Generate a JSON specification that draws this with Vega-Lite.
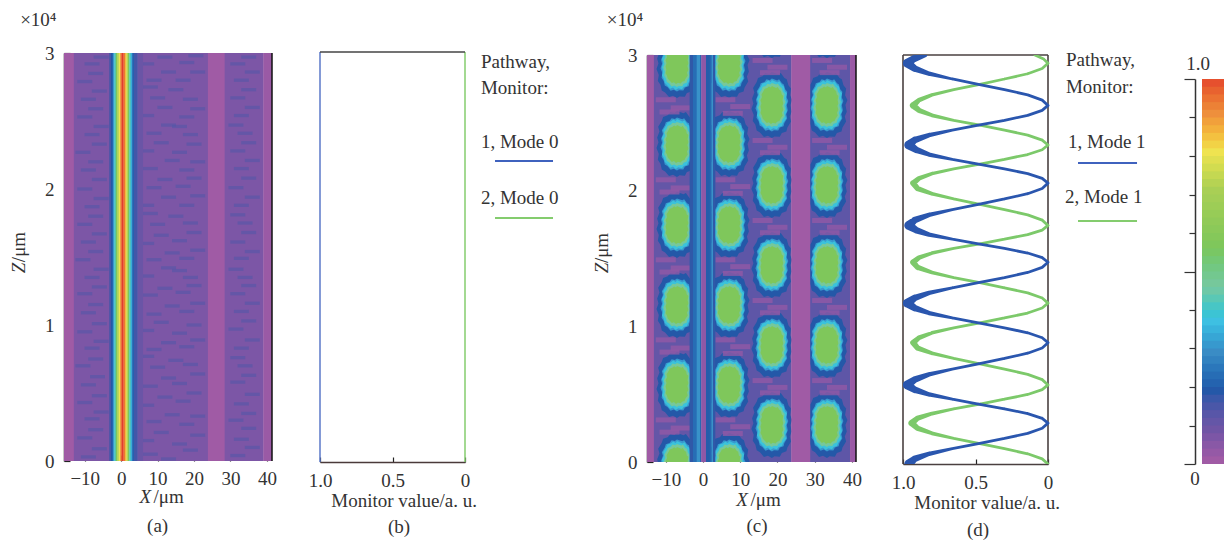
{
"$schema":"https://vega.github.io/schema/vega-lite/v6.json",
"autosize":{"type":"none"},
"padding":{"left":64,"top":55,"right":1160,"bottom":485},
"background":"white",
"spacing":0,
"bounds":"flush",
"config":{"view":{"stroke":null},"legend":{"disable":true},"axis":{"labelFont":"Liberation Serif","labelFontSize":19,"labelColor":"#333","labelFlush":false,"grid":false,"tickColor":"#222","domainColor":"#222","domainWidth":1.5,"tickWidth":1.2,"title":null},"text":{"font":"Liberation Serif","fontSize":19,"color":"#333","baseline":"middle"}},
"datasets":{
"a_bands":[{"x0":-15.7,"x1":-12.9,"v":0.0},{"x0":-13,"x1":-3,"v":0.06},{"x0":5,"x1":23.9,"v":0.06},{"x0":23.8,"x1":28.5,"v":0.0},{"x0":28.4,"x1":39.1,"v":0.06},{"x0":39,"x1":41.4,"v":0.01}],
"a_wave":[{"x0":-3.3,"x1":-2.7,"v":0.14},{"x0":-2.8,"x1":-2.2,"v":0.18},{"x0":-2.3,"x1":-1.8,"v":0.3},{"x0":-1.9,"x1":-1.4,"v":0.4},{"x0":-1.5,"x1":-1,"v":0.55},{"x0":-1.1,"x1":-0.6,"v":0.7},{"x0":-0.7,"x1":-0.2,"v":0.8},{"x0":-0.3,"x1":0.2,"v":0.9},{"x0":0.1,"x1":0.7,"v":1},{"x0":0.6,"x1":1.1,"v":0.95},{"x0":1,"x1":1.5,"v":0.85},{"x0":1.4,"x1":1.9,"v":0.75},{"x0":1.8,"x1":2.3,"v":0.55},{"x0":2.2,"x1":2.7,"v":0.42},{"x0":2.6,"x1":3.1,"v":0.33},{"x0":3,"x1":3.6,"v":0.2},{"x0":3.5,"x1":4.6,"v":0.15},{"x0":4.5,"x1":6,"v":0.09}],
"a_noise":[{"x":-9,"z":300},{"x":-6,"z":900},{"x":8,"z":500},{"x":13,"z":150},{"x":19,"z":800},{"x":32,"z":400},{"x":36,"z":1000},
{"x":-10,"z":1700},{"x":-7,"z":2300},{"x":7,"z":1500},{"x":11,"z":2100},{"x":16,"z":1250},{"x":21,"z":1900},{"x":33,"z":1600},{"x":35,"z":2400},
{"x":-8,"z":3100},{"x":-5.5,"z":3600},{"x":9,"z":2900},{"x":14,"z":3400},{"x":18,"z":2700},{"x":21,"z":3300},{"x":31.5,"z":3000},{"x":35,"z":3500},
{"x":-10,"z":4300},{"x":-6,"z":4800},{"x":7,"z":4100},{"x":12,"z":4700},{"x":17,"z":4400},{"x":20,"z":5000},{"x":33,"z":4200},{"x":36,"z":4900},
{"x":-9,"z":5600},{"x":-6.5,"z":6200},{"x":8,"z":5500},{"x":13,"z":6100},{"x":16,"z":5700},{"x":21,"z":6400},{"x":32,"z":5800},{"x":35,"z":6300},
{"x":-10.5,"z":7000},{"x":-7,"z":7500},{"x":10,"z":6900},{"x":15,"z":7400},{"x":19,"z":7100},{"x":7,"z":7700},{"x":34,"z":7000},{"x":32,"z":7600},
{"x":-8,"z":8300},{"x":-5.5,"z":8800},{"x":9,"z":8200},{"x":13,"z":8700},{"x":18,"z":8400},{"x":21,"z":8900},{"x":33,"z":8300},{"x":36,"z":8900},
{"x":-10,"z":9500},{"x":-6,"z":10100},{"x":7,"z":9600},{"x":11,"z":10200},{"x":16,"z":9400},{"x":20,"z":10000},{"x":31.5,"z":9700},{"x":35,"z":10300},
{"x":-9,"z":10900},{"x":-7,"z":11500},{"x":9,"z":10800},{"x":14,"z":11400},{"x":18,"z":11000},{"x":21,"z":11600},{"x":33,"z":11000},{"x":36,"z":11600},
{"x":-10,"z":12300},{"x":-6,"z":12800},{"x":8,"z":12200},{"x":12,"z":12700},{"x":17,"z":12400},{"x":20,"z":12900},{"x":32,"z":12300},{"x":35,"z":12900},
{"x":-8,"z":13500},{"x":-5.5,"z":14100},{"x":7,"z":13600},{"x":13,"z":14200},{"x":19,"z":13500},{"x":16,"z":14000},{"x":34,"z":13500},{"x":31.5,"z":14100},
{"x":-10.5,"z":14800},{"x":-7,"z":15400},{"x":9,"z":14800},{"x":14,"z":15300},{"x":18,"z":14900},{"x":21,"z":15500},{"x":33,"z":14900},{"x":36,"z":15400},
{"x":-9,"z":16100},{"x":-6,"z":16700},{"x":7,"z":16000},{"x":11,"z":16600},{"x":16,"z":16200},{"x":20,"z":16800},{"x":32,"z":16100},{"x":35,"z":16800},
{"x":-10,"z":17400},{"x":-7,"z":18000},{"x":10,"z":17400},{"x":15,"z":18000},{"x":19,"z":17500},{"x":8,"z":18200},{"x":34,"z":17500},{"x":32,"z":18100},
{"x":-8,"z":18700},{"x":-5.5,"z":19300},{"x":7,"z":18800},{"x":13,"z":19400},{"x":18,"z":18800},{"x":21,"z":19500},{"x":33,"z":18800},{"x":36,"z":19400},
{"x":-10,"z":20000},{"x":-6,"z":20700},{"x":9,"z":20100},{"x":12,"z":20700},{"x":17,"z":20200},{"x":20,"z":20800},{"x":31.5,"z":20100},{"x":35,"z":20800},
{"x":-9,"z":21400},{"x":-7,"z":22000},{"x":8,"z":21500},{"x":14,"z":22100},{"x":18,"z":21400},{"x":21,"z":22000},{"x":33,"z":21500},{"x":36,"z":22100},
{"x":-10.5,"z":22700},{"x":-6,"z":23300},{"x":7,"z":22800},{"x":11,"z":23400},{"x":16,"z":22700},{"x":20,"z":23300},{"x":32,"z":22800},{"x":35,"z":23400},
{"x":-8,"z":24000},{"x":-5.5,"z":24600},{"x":9,"z":24100},{"x":13,"z":24700},{"x":19,"z":24000},{"x":16,"z":24600},{"x":34,"z":24100},{"x":31.5,"z":24700},
{"x":-10,"z":25300},{"x":-7,"z":25900},{"x":7,"z":25400},{"x":12,"z":26000},{"x":18,"z":25300},{"x":21,"z":25900},{"x":33,"z":25400},{"x":36,"z":26000},
{"x":-9,"z":26600},{"x":-6,"z":27200},{"x":10,"z":26700},{"x":15,"z":27300},{"x":19,"z":26600},{"x":8,"z":27500},{"x":32,"z":26700},{"x":35,"z":27300},
{"x":-10,"z":27900},{"x":-7,"z":28500},{"x":9,"z":28000},{"x":13,"z":28600},{"x":17,"z":28000},{"x":21,"z":28600},{"x":33,"z":28000},{"x":36,"z":28600},
{"x":-8,"z":29200},{"x":-5.5,"z":29700},{"x":7,"z":29200},{"x":12,"z":29700},{"x":18,"z":29300},{"x":20.5,"z":29800},{"x":32,"z":29200},{"x":35,"z":29700}],
"c_base":[{"x0":-15.05,"x1":-13.1,"v":0.0},{"x0":-13.2,"x1":-2.6,"v":0.1},{"x0":2.6,"x1":23.8,"v":0.11},{"x0":28.7,"x1":39.6,"v":0.11},{"x0":39.5,"x1":41.1,"v":0.01}],
"c_top":[{"x0":-3.6,"x1":-2.6,"v":0.17},{"x0":-2.7,"x1":-1.6,"v":0.22},{"x0":-1.7,"x1":-0.7,"v":0.29},{"x0":-0.8,"x1":-0.4,"v":0.2},{"x0":-0.5,"x1":0.9,"v":0.03},{"x0":0.8,"x1":1.9,"v":0.19},{"x0":1.8,"x1":2.4,"v":0.21},{"x0":2.3,"x1":2.8,"v":0.29},{"x0":2.7,"x1":3.3,"v":0.17},{"x0":23.7,"x1":28.8,"v":0.0}],
"c_blobs":[{"x":-7,"z":29260},{"x":-7,"z":23440},{"x":-7,"z":17470},{"x":-7,"z":11570},{"x":-7,"z":5680},{"x":-7,"z":-290},
{"x":7,"z":29260},{"x":7,"z":23440},{"x":7,"z":17470},{"x":7,"z":11570},{"x":7,"z":5680},{"x":7,"z":-290},
{"x":18.5,"z":32200},{"x":18.5,"z":26310},{"x":18.5,"z":20420},{"x":18.5,"z":14520},{"x":18.5,"z":8620},{"x":18.5,"z":2730},
{"x":33.3,"z":32200},{"x":33.3,"z":26310},{"x":33.3,"z":20420},{"x":33.3,"z":14520},{"x":33.3,"z":8620},{"x":33.3,"z":2730}],
"c_streak":[{"x":-10,"z":26700},{"x":-6,"z":26100},{"x":-9,"z":25800},{"x":6,"z":26700},{"x":10,"z":26200},{"x":8,"z":25700},
{"x":-10,"z":20800},{"x":-6,"z":20200},{"x":-9,"z":19900},{"x":6,"z":20800},{"x":10,"z":20300},{"x":8,"z":19800},
{"x":-10,"z":14900},{"x":-6,"z":14300},{"x":-9,"z":14000},{"x":6,"z":14900},{"x":10,"z":14400},{"x":8,"z":13900},
{"x":-10,"z":9000},{"x":-6,"z":8400},{"x":-9,"z":8100},{"x":6,"z":9000},{"x":10,"z":8500},{"x":8,"z":8000},
{"x":-10,"z":3100},{"x":-6,"z":2500},{"x":-9,"z":2200},{"x":6,"z":3100},{"x":10,"z":2600},{"x":8,"z":2100},
{"x":16,"z":29600},{"x":20,"z":29100},{"x":18,"z":28700},{"x":32,"z":29600},{"x":36,"z":29100},{"x":34,"z":28700},
{"x":16,"z":23700},{"x":20,"z":23200},{"x":18,"z":22800},{"x":32,"z":23700},{"x":36,"z":23200},{"x":34,"z":22800},
{"x":16,"z":17800},{"x":20,"z":17300},{"x":18,"z":16900},{"x":32,"z":17800},{"x":36,"z":17300},{"x":34,"z":16900},
{"x":16,"z":11900},{"x":20,"z":11400},{"x":18,"z":11000},{"x":32,"z":11900},{"x":36,"z":11400},{"x":34,"z":11000},
{"x":16,"z":6000},{"x":20,"z":5500},{"x":18,"z":5100},{"x":32,"z":6000},{"x":36,"z":5500},{"x":34,"z":5100}],
"d_curves":[
{"z":0,"m1":0.96,"m2":0,"s1":1,"s2":0},{"z":375,"m1":0.92,"m2":0.04,"s1":0.6,"s2":0},{"z":750,"m1":0.82,"m2":0.14,"s1":0.25,"s2":0},{"z":1125,"m1":0.66,"m2":0.3,"s1":0,"s2":0},{"z":1500,"m1":0.48,"m2":0.47,"s1":0,"s2":0},{"z":1875,"m1":0.3,"m2":0.65,"s1":0,"s2":0},{"z":2250,"m1":0.14,"m2":0.8,"s1":0,"s2":0.15},{"z":2625,"m1":0.04,"m2":0.9,"s1":0,"s2":0.4},{"z":3000,"m1":0,"m2":0.94,"s1":0,"s2":0.6},
{"z":3350,"m1":0.04,"m2":0.9,"s1":0,"s2":0.4},{"z":3700,"m1":0.14,"m2":0.8,"s1":0,"s2":0.15},{"z":4050,"m1":0.3,"m2":0.65,"s1":0,"s2":0},{"z":4400,"m1":0.48,"m2":0.47,"s1":0,"s2":0},{"z":4750,"m1":0.66,"m2":0.3,"s1":0,"s2":0},{"z":5100,"m1":0.82,"m2":0.14,"s1":0.25,"s2":0},{"z":5450,"m1":0.92,"m2":0.04,"s1":0.6,"s2":0},{"z":5800,"m1":0.97,"m2":0,"s1":1,"s2":0},
{"z":6190,"m1":0.92,"m2":0.04,"s1":0.6,"s2":0},{"z":6575,"m1":0.82,"m2":0.14,"s1":0.25,"s2":0},{"z":6960,"m1":0.66,"m2":0.3,"s1":0,"s2":0},{"z":7350,"m1":0.48,"m2":0.47,"s1":0,"s2":0},{"z":7740,"m1":0.3,"m2":0.65,"s1":0,"s2":0},{"z":8125,"m1":0.14,"m2":0.8,"s1":0,"s2":0.15},{"z":8510,"m1":0.04,"m2":0.9,"s1":0,"s2":0.4},{"z":8900,"m1":0,"m2":0.93,"s1":0,"s2":0.5},
{"z":9260,"m1":0.04,"m2":0.89,"s1":0,"s2":0.3},{"z":9625,"m1":0.14,"m2":0.8,"s1":0,"s2":0.1},{"z":9990,"m1":0.3,"m2":0.65,"s1":0,"s2":0},{"z":10350,"m1":0.48,"m2":0.47,"s1":0,"s2":0},{"z":10710,"m1":0.66,"m2":0.3,"s1":0,"s2":0},{"z":11075,"m1":0.82,"m2":0.14,"s1":0.25,"s2":0},{"z":11440,"m1":0.92,"m2":0.04,"s1":0.6,"s2":0},{"z":11800,"m1":0.97,"m2":0,"s1":1,"s2":0},
{"z":12175,"m1":0.92,"m2":0.04,"s1":0.6,"s2":0},{"z":12550,"m1":0.82,"m2":0.14,"s1":0.25,"s2":0},{"z":12925,"m1":0.66,"m2":0.3,"s1":0,"s2":0},{"z":13300,"m1":0.48,"m2":0.47,"s1":0,"s2":0},{"z":13675,"m1":0.3,"m2":0.65,"s1":0,"s2":0},{"z":14050,"m1":0.14,"m2":0.8,"s1":0,"s2":0.15},{"z":14425,"m1":0.04,"m2":0.9,"s1":0,"s2":0.4},{"z":14800,"m1":0,"m2":0.93,"s1":0,"s2":0.5},
{"z":15140,"m1":0.04,"m2":0.89,"s1":0,"s2":0.3},{"z":15475,"m1":0.14,"m2":0.8,"s1":0,"s2":0.1},{"z":15810,"m1":0.3,"m2":0.65,"s1":0,"s2":0},{"z":16150,"m1":0.48,"m2":0.47,"s1":0,"s2":0},{"z":16490,"m1":0.66,"m2":0.3,"s1":0,"s2":0},{"z":16825,"m1":0.82,"m2":0.14,"s1":0.25,"s2":0},{"z":17160,"m1":0.91,"m2":0.04,"s1":0.6,"s2":0},{"z":17500,"m1":0.96,"m2":0,"s1":1,"s2":0},
{"z":17890,"m1":0.92,"m2":0.04,"s1":0.6,"s2":0},{"z":18275,"m1":0.82,"m2":0.14,"s1":0.25,"s2":0},{"z":18660,"m1":0.66,"m2":0.3,"s1":0,"s2":0},{"z":19050,"m1":0.48,"m2":0.47,"s1":0,"s2":0},{"z":19440,"m1":0.3,"m2":0.65,"s1":0,"s2":0},{"z":19825,"m1":0.14,"m2":0.8,"s1":0,"s2":0.15},{"z":20210,"m1":0.04,"m2":0.9,"s1":0,"s2":0.4},{"z":20600,"m1":0,"m2":0.93,"s1":0,"s2":0.5},
{"z":20950,"m1":0.04,"m2":0.89,"s1":0,"s2":0.3},{"z":21300,"m1":0.14,"m2":0.8,"s1":0,"s2":0.1},{"z":21650,"m1":0.3,"m2":0.65,"s1":0,"s2":0},{"z":22000,"m1":0.48,"m2":0.47,"s1":0,"s2":0},{"z":22350,"m1":0.66,"m2":0.3,"s1":0,"s2":0},{"z":22700,"m1":0.82,"m2":0.14,"s1":0.25,"s2":0},{"z":23050,"m1":0.91,"m2":0.04,"s1":0.6,"s2":0},{"z":23400,"m1":0.96,"m2":0,"s1":1,"s2":0},
{"z":23760,"m1":0.92,"m2":0.04,"s1":0.6,"s2":0},{"z":24125,"m1":0.82,"m2":0.14,"s1":0.25,"s2":0},{"z":24490,"m1":0.66,"m2":0.3,"s1":0,"s2":0},{"z":24850,"m1":0.48,"m2":0.47,"s1":0,"s2":0},{"z":25210,"m1":0.3,"m2":0.65,"s1":0,"s2":0},{"z":25575,"m1":0.14,"m2":0.8,"s1":0,"s2":0.15},{"z":25940,"m1":0.04,"m2":0.89,"s1":0,"s2":0.4},{"z":26300,"m1":0,"m2":0.93,"s1":0,"s2":0.6},
{"z":26690,"m1":0.04,"m2":0.89,"s1":0,"s2":0.3},{"z":27075,"m1":0.14,"m2":0.8,"s1":0,"s2":0.1},{"z":27460,"m1":0.3,"m2":0.65,"s1":0,"s2":0},{"z":27850,"m1":0.48,"m2":0.47,"s1":0,"s2":0},{"z":28240,"m1":0.66,"m2":0.3,"s1":0,"s2":0},{"z":28625,"m1":0.82,"m2":0.14,"s1":0.25,"s2":0},{"z":29010,"m1":0.92,"m2":0.04,"s1":0.6,"s2":0},{"z":29400,"m1":0.97,"m2":0,"s1":1,"s2":0},
{"z":29700,"m1":0.93,"m2":0.03,"s1":0.7,"s2":0},{"z":30000,"m1":0.85,"m2":0.09,"s1":0.35,"s2":0}],
"cbar":[{"v":0,"v2":0.03},{"v":0.02,"v2":0.05},{"v":0.04,"v2":0.07},{"v":0.06,"v2":0.09},{"v":0.08,"v2":0.11},{"v":0.1,"v2":0.13},{"v":0.12,"v2":0.15},{"v":0.14,"v2":0.17},{"v":0.16,"v2":0.19},{"v":0.18,"v2":0.21},{"v":0.2,"v2":0.23},{"v":0.22,"v2":0.25},{"v":0.24,"v2":0.27},{"v":0.26,"v2":0.29},{"v":0.28,"v2":0.31},{"v":0.3,"v2":0.33},{"v":0.32,"v2":0.35},{"v":0.34,"v2":0.37},{"v":0.36,"v2":0.39},{"v":0.38,"v2":0.41},{"v":0.4,"v2":0.43},{"v":0.42,"v2":0.45},{"v":0.44,"v2":0.47},{"v":0.46,"v2":0.49},{"v":0.48,"v2":0.51},{"v":0.5,"v2":0.53},{"v":0.52,"v2":0.55},{"v":0.54,"v2":0.57},{"v":0.56,"v2":0.59},{"v":0.58,"v2":0.61},{"v":0.6,"v2":0.63},{"v":0.62,"v2":0.65},{"v":0.64,"v2":0.67},{"v":0.66,"v2":0.69},{"v":0.68,"v2":0.71},{"v":0.7,"v2":0.73},{"v":0.72,"v2":0.75},{"v":0.74,"v2":0.77},{"v":0.76,"v2":0.79},{"v":0.78,"v2":0.81},{"v":0.8,"v2":0.83},{"v":0.82,"v2":0.85},{"v":0.84,"v2":0.87},{"v":0.86,"v2":0.89},{"v":0.88,"v2":0.91},{"v":0.9,"v2":0.93},{"v":0.92,"v2":0.95},{"v":0.94,"v2":0.97},{"v":0.96,"v2":0.99},{"v":0.98,"v2":1}]
},
"hconcat":[
{"width":256,"height":406,"layer":[
{"data":{"name":"a_bands"},"mark":{"type":"rect"},"encoding":{
"x":{"field":"x0","type":"quantitative","scale":{"domain":[-15.7,41.4],"range":[0,208],"nice":false},"axis":{"values":[-10,0,10,20,30,40],"tickSize":-6,"labelPadding":14,"domain":false}},"x2":{"field":"x1"},
"y":{"datum":0,"scale":{"domain":[0,30000],"range":[406,-2],"nice":false},"axis":{"values":[0,10000,20000,30000],"labelExpr":"datum.value/10000","tickSize":-6,"labelPadding":16}},"y2":{"datum":30000},
"color":{"field":"v","type":"quantitative","scale":{"domain":[0,0.08,0.18,0.28,0.36,0.45,0.55,0.7,0.8,0.9,1],"range":["#A05BA5","#6F55A5","#2458A8","#3A8CC5","#3EC0E2","#78C8A0","#7CC65C","#A9CF55","#EFE350","#EE8F3C","#E33B2E"]}}}},
{"data":{"name":"a_noise"},"mark":{"type":"point","filled":true,"shape":"M-1,-.22H1V.22H-1Z","size":225,"opacity":0.55,"stroke":null},"encoding":{"x":{"field":"x","type":"quantitative"},"y":{"field":"z","type":"quantitative"},"color":{"datum":0.13}}},
{"data":{"name":"a_wave"},"mark":{"type":"rect"},"encoding":{"x":{"field":"x0","type":"quantitative"},"x2":{"field":"x1"},"y":{"datum":0},"y2":{"datum":30000},"color":{"field":"v","type":"quantitative"}}},
{"data":{"values":[{"x":41.4,"z":0,"z2":30000}]},"mark":{"type":"rule","color":"#111","strokeWidth":1.5},"encoding":{"x":{"field":"x","type":"quantitative"},"y":{"field":"z","type":"quantitative"},"y2":{"field":"z2"}}},
{"data":{"values":[{"t":"×10⁴","x":-22.75,"z":32426},{"t":"/μm","x":13,"z":-2647},{"t":"(a)","x":10,"z":-4780}]},"mark":{"type":"text"},"encoding":{"text":{"field":"t"},"x":{"field":"x","type":"quantitative"},"y":{"field":"z","type":"quantitative"}}},
{"data":{"values":[{"t":"X","x":6.6,"z":-2647}]},"mark":{"type":"text","fontStyle":"italic"},"encoding":{"text":{"field":"t"},"x":{"field":"x","type":"quantitative"},"y":{"field":"z","type":"quantitative"}}},
{"data":{"values":[{"t":"/μm","x":-28,"z":15735}]},"mark":{"type":"text","angle":270},"encoding":{"text":{"field":"t"},"x":{"field":"x","type":"quantitative"},"y":{"field":"z","type":"quantitative"}}},
{"data":{"values":[{"t":"Z","x":-28,"z":14190}]},"mark":{"type":"text","angle":270,"fontStyle":"italic"},"encoding":{"text":{"field":"t"},"x":{"field":"x","type":"quantitative"},"y":{"field":"z","type":"quantitative"}}}
]},
{"width":327,"height":407,"layer":[
{"data":{"values":[{"m":1,"z":0},{"m":1,"z":30000}]},"mark":{"type":"line","color":"#5B78C8","strokeWidth":1.5},"encoding":{
"x":{"field":"m","type":"quantitative","scale":{"domain":[1,0],"range":[0,145],"nice":false},"axis":{"values":[1,0.5,0],"labelExpr":"datum.value==0?'0':format(datum.value,'.1f')","tickSize":-5,"labelPadding":14,"domainColor":"#4a3a3a"}},
"y":{"field":"z","type":"quantitative","scale":{"domain":[0,30000],"range":[407,-3],"nice":false},"axis":null},"order":{"field":"z"}}},
{"data":{"values":[{"m":0,"z":0},{"m":0,"z":30000}]},"mark":{"type":"line","color":"#84CC6E","strokeWidth":1.5},"encoding":{"x":{"field":"m","type":"quantitative"},"y":{"field":"z","type":"quantitative"},"order":{"field":"z"}}},
{"data":{"values":[{"m":1,"m2":0,"z":30000}]},"mark":{"type":"rule","color":"#444","strokeWidth":1.5},"encoding":{"x":{"field":"m","type":"quantitative"},"x2":{"field":"m2"},"y":{"field":"z","type":"quantitative"}}},
{"data":{"values":[{"m":-0.207,"m2":-0.607,"z":22024}]},"mark":{"type":"rule","color":"#3F62BE","strokeWidth":2},"encoding":{"x":{"field":"m","type":"quantitative"},"x2":{"field":"m2"},"y":{"field":"z","type":"quantitative"}}},
{"data":{"values":[{"m":-0.207,"m2":-0.607,"z":17854}]},"mark":{"type":"rule","color":"#84CC6E","strokeWidth":2},"encoding":{"x":{"field":"m","type":"quantitative"},"x2":{"field":"m2"},"y":{"field":"z","type":"quantitative"}}},
{"data":{"values":[{"t":"Monitor value/a. u.","m":0.42,"z":-2854},{"t":"(b)","m":0.455,"z":-4756}]},"mark":{"type":"text"},"encoding":{"text":{"field":"t"},"x":{"field":"m","type":"quantitative"},"y":{"field":"z","type":"quantitative"}}},
{"data":{"values":[{"t":"Pathway,","m":-0.11,"z":29268},{"t":"Monitor:","m":-0.11,"z":27366},{"t":"1, Mode 0","m":-0.11,"z":23414},{"t":"2, Mode 0","m":-0.11,"z":19317}]},"mark":{"type":"text","align":"left"},"encoding":{"text":{"field":"t"},"x":{"field":"m","type":"quantitative"},"y":{"field":"z","type":"quantitative"}}}
]},
{"width":256,"height":407,"layer":[
{"data":{"name":"c_base"},"mark":{"type":"rect"},"encoding":{
"x":{"field":"x0","type":"quantitative","scale":{"domain":[-15.05,41.1],"range":[0,209],"nice":false},"axis":{"values":[-10,0,10,20,30,40],"tickSize":-6,"labelPadding":14,"domain":false}},"x2":{"field":"x1"},
"y":{"datum":0,"scale":{"domain":[0,30000],"range":[407,0],"nice":false},"axis":{"values":[0,10000,20000,30000],"labelExpr":"datum.value/10000","tickSize":-6,"labelPadding":16}},"y2":{"datum":30000},
"color":{"field":"v","type":"quantitative","scale":{"domain":[0,0.08,0.18,0.28,0.36,0.45,0.55,0.7,0.8,0.9,1],"range":["#A05BA5","#6F55A5","#2458A8","#3A8CC5","#3EC0E2","#78C8A0","#7CC65C","#A9CF55","#EFE350","#EE8F3C","#E33B2E"]}}}},
{"data":{"name":"c_blobs"},"mark":{"type":"point","filled":true,"clip":true,"shape":"M0,-1 L.2,-.93 .27,-.97 .38,-.82 .45,-.78 .5,-.6 .58,-.5 .55,-.3 .62,-.15 .56,0 .6,.2 .54,.35 .58,.5 .47,.68 .44,.8 .3,.85 .24,.96 .08,.95 0,1 -.12,.93 -.24,.97 -.36,.83 -.46,.77 -.5,.6 -.58,.48 -.55,.3 -.62,.12 -.56,-.05 -.6,-.2 -.53,-.38 -.57,-.52 -.46,-.7 -.42,-.82 -.28,-.87 -.2,-.97 -.08,-.94 Z","size":4356,"opacity":1,"stroke":null},"encoding":{"x":{"field":"x","type":"quantitative"},"y":{"field":"z","type":"quantitative"},"color":{"datum":0.18}}},
{"data":{"name":"c_streak"},"mark":{"type":"point","filled":true,"clip":true,"shape":"M-1,-.25H1V.25H-1Z","size":400,"opacity":0.75,"stroke":null},"encoding":{"x":{"field":"x","type":"quantitative"},"y":{"field":"z","type":"quantitative"},"color":{"datum":0.02}}},
{"data":{"name":"c_blobs"},"mark":{"type":"point","filled":true,"clip":true,"shape":"M0,-1 L.2,-.93 .27,-.97 .38,-.82 .45,-.78 .5,-.6 .58,-.5 .55,-.3 .62,-.15 .56,0 .6,.2 .54,.35 .58,.5 .47,.68 .44,.8 .3,.85 .24,.96 .08,.95 0,1 -.12,.93 -.24,.97 -.36,.83 -.46,.77 -.5,.6 -.58,.48 -.55,.3 -.62,.12 -.56,-.05 -.6,-.2 -.53,-.38 -.57,-.52 -.46,-.7 -.42,-.82 -.28,-.87 -.2,-.97 -.08,-.94 Z","size":2809,"opacity":1,"stroke":null},"encoding":{"x":{"field":"x","type":"quantitative"},"y":{"field":"z","type":"quantitative"},"color":{"datum":0.3}}},
{"data":{"name":"c_blobs"},"mark":{"type":"point","filled":true,"clip":true,"shape":"M0,-1 L.22,-.9 .3,-.95 .4,-.8 .48,-.74 .52,-.55 .6,-.48 .56,-.25 .6,-.1 .55,.05 .6,.25 .53,.4 .57,.55 .45,.72 .4,.84 .27,.88 .2,.97 .05,.93 -.05,1 -.16,.9 -.27,.95 -.4,.8 -.48,.72 -.53,.55 -.6,.42 -.56,.25 -.6,.08 -.55,-.1 -.6,-.25 -.52,-.42 -.55,-.56 -.44,-.74 -.38,-.86 -.25,-.9 -.15,-.98 -.05,-.92 Z","size":2500,"opacity":1,"stroke":null},"encoding":{"x":{"field":"x","type":"quantitative"},"y":{"field":"z","type":"quantitative"},"color":{"datum":0.37}}},
{"data":{"name":"c_blobs"},"mark":{"type":"point","filled":true,"clip":true,"shape":"M0,-1 L.2,-.93 .27,-.97 .38,-.82 .45,-.78 .5,-.6 .58,-.5 .55,-.3 .62,-.15 .56,0 .6,.2 .54,.35 .58,.5 .47,.68 .44,.8 .3,.85 .24,.96 .08,.95 0,1 -.12,.93 -.24,.97 -.36,.83 -.46,.77 -.5,.6 -.58,.48 -.55,.3 -.62,.12 -.56,-.05 -.6,-.2 -.53,-.38 -.57,-.52 -.46,-.7 -.42,-.82 -.28,-.87 -.2,-.97 -.08,-.94 Z","size":1936,"opacity":1,"stroke":null},"encoding":{"x":{"field":"x","type":"quantitative"},"y":{"field":"z","type":"quantitative"},"color":{"datum":0.46}}},
{"data":{"name":"c_blobs"},"mark":{"type":"point","filled":true,"clip":true,"shape":"M0,-1 L.22,-.9 .3,-.95 .4,-.8 .48,-.74 .52,-.55 .6,-.48 .56,-.25 .6,-.1 .55,.05 .6,.25 .53,.4 .57,.55 .45,.72 .4,.84 .27,.88 .2,.97 .05,.93 -.05,1 -.16,.9 -.27,.95 -.4,.8 -.48,.72 -.53,.55 -.6,.42 -.56,.25 -.6,.08 -.55,-.1 -.6,-.25 -.52,-.42 -.55,-.56 -.44,-.74 -.38,-.86 -.25,-.9 -.15,-.98 -.05,-.92 Z","size":1444,"opacity":1,"stroke":null},"encoding":{"x":{"field":"x","type":"quantitative"},"y":{"field":"z","type":"quantitative"},"color":{"datum":0.56}}},
{"data":{"name":"c_top"},"mark":{"type":"rect"},"encoding":{"x":{"field":"x0","type":"quantitative"},"x2":{"field":"x1"},"y":{"datum":0},"y2":{"datum":30000},"color":{"field":"v","type":"quantitative"}}},
{"data":{"values":[{"x":41.1,"z":0,"z2":30000}]},"mark":{"type":"rule","color":"#111","strokeWidth":1.5},"encoding":{"x":{"field":"x","type":"quantitative"},"y":{"field":"z","type":"quantitative"},"y2":{"field":"z2"}}},
{"data":{"values":[{"t":"×10⁴","x":-20.97,"z":32580},{"t":"/μm","x":16.8,"z":-2801},{"t":"(c)","x":14.5,"z":-4717}]},"mark":{"type":"text"},"encoding":{"text":{"field":"t"},"x":{"field":"x","type":"quantitative"},"y":{"field":"z","type":"quantitative"}}},
{"data":{"values":[{"t":"X","x":10.5,"z":-2801}]},"mark":{"type":"text","fontStyle":"italic"},"encoding":{"text":{"field":"t"},"x":{"field":"x","type":"quantitative"},"y":{"field":"z","type":"quantitative"}}},
{"data":{"values":[{"t":"/μm","x":-27.15,"z":15774}]},"mark":{"type":"text","angle":270},"encoding":{"text":{"field":"t"},"x":{"field":"x","type":"quantitative"},"y":{"field":"z","type":"quantitative"}}},
{"data":{"values":[{"t":"Z","x":-27.15,"z":14300}]},"mark":{"type":"text","angle":270,"fontStyle":"italic"},"encoding":{"text":{"field":"t"},"x":{"field":"x","type":"quantitative"},"y":{"field":"z","type":"quantitative"}}}
]},
{"width":299,"height":409,"layer":[
{"data":{"values":[{"m":1,"m2":0,"z":30000,"z2":30000},{"m":1,"m2":1,"z":0,"z2":30000},{"m":0,"m2":0,"z":0,"z2":30000}]},"mark":{"type":"rule","color":"#4a4040","strokeWidth":1.6},"encoding":{
"x":{"field":"m","type":"quantitative","scale":{"domain":[1,0],"range":[0,145],"nice":false},"axis":{"values":[1,0.5,0],"labelExpr":"datum.value==0?'0':format(datum.value,'.1f')","tickSize":-5,"labelPadding":14,"domainColor":"#4a4040"}},"x2":{"field":"m2"},
"y":{"field":"z","type":"quantitative","scale":{"domain":[0,30000],"range":[409,0],"nice":false},"axis":null},"y2":{"field":"z2"}}},
{"data":{"name":"d_curves"},"mark":{"type":"trail","color":"#7CC96A","clip":true},"encoding":{"x":{"field":"m2","type":"quantitative"},"y":{"field":"z","type":"quantitative"},"order":{"field":"z"},"size":{"field":"s2","type":"quantitative","scale":{"domain":[0,1],"range":[2.8,9]}}}},
{"data":{"name":"d_curves"},"mark":{"type":"trail","color":"#2A56AE","clip":true},"encoding":{"x":{"field":"m1","type":"quantitative"},"y":{"field":"z","type":"quantitative"},"order":{"field":"z"},"size":{"field":"s1","type":"quantitative"}}},
{"data":{"values":[{"m":-0.207,"m2":-0.614,"z":22080}]},"mark":{"type":"rule","color":"#3F62BE","strokeWidth":2},"encoding":{"x":{"field":"m","type":"quantitative"},"x2":{"field":"m2"},"y":{"field":"z","type":"quantitative"}}},
{"data":{"values":[{"m":-0.207,"m2":-0.614,"z":17825}]},"mark":{"type":"rule","color":"#84CC6E","strokeWidth":2},"encoding":{"x":{"field":"m","type":"quantitative"},"x2":{"field":"m2"},"y":{"field":"z","type":"quantitative"}}},
{"data":{"values":[{"t":"Monitor value/a. u.","m":0.42,"z":-2860},{"t":"(d)","m":0.483,"z":-4841}]},"mark":{"type":"text"},"encoding":{"text":{"field":"t"},"x":{"field":"m","type":"quantitative"},"y":{"field":"z","type":"quantitative"}}},
{"data":{"values":[{"t":"Pathway,","m":-0.124,"z":29630},{"t":"Monitor:","m":-0.124,"z":27650},{"t":"1, Mode 1","m":-0.138,"z":23620},{"t":"2, Mode 1","m":-0.117,"z":19585}]},"mark":{"type":"text","align":"left"},"encoding":{"text":{"field":"t"},"x":{"field":"m","type":"quantitative"},"y":{"field":"z","type":"quantitative"}}}
]},
{"width":22,"height":409,"layer":[
{"data":{"name":"cbar"},"mark":{"type":"rect"},"encoding":{
"y":{"field":"v","type":"quantitative","scale":{"domain":[0,1],"range":[409,24],"nice":false},"axis":{"orient":"left","offset":7,"values":[0,0.1,0.2,0.3,0.4,0.5,0.6,0.7,0.8,0.9,1],"labels":false,"tickSize":{"expr":"datum.value==0||datum.value==0.5||datum.value==1?11:6"},"domainColor":"#333","tickColor":"#333"}},"y2":{"field":"v2"},
"color":{"field":"v","type":"quantitative","scale":{"domain":[0,0.08,0.18,0.28,0.36,0.45,0.55,0.7,0.8,0.9,1],"range":["#A05BA5","#6F55A5","#2458A8","#3A8CC5","#3EC0E2","#78C8A0","#7CC65C","#A9CF55","#EFE350","#EE8F3C","#E33B2E"]}}}},
{"data":{"values":[{"t":"1.0","c":-0.18,"v":1.04},{"t":"0","c":-0.32,"v":-0.039}]},"mark":{"type":"text"},"encoding":{"text":{"field":"t"},"x":{"field":"c","type":"quantitative","scale":{"domain":[0,1],"range":[0,22],"nice":false},"axis":null},"y":{"field":"v","type":"quantitative"}}}
]}
]
}
